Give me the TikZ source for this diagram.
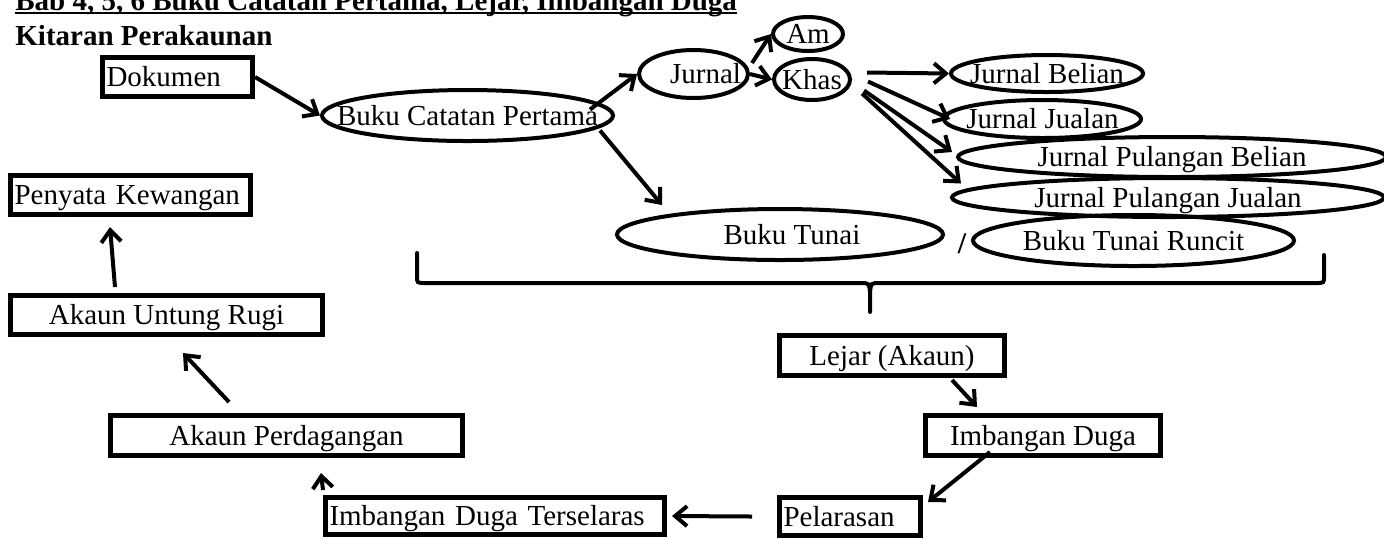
\documentclass[tikz,border=0pt]{standalone}
\usepackage{fontspec}
\setmainfont{Liberation Serif}
\usetikzlibrary{arrows.meta, shapes.geometric}

\begin{document}
\begin{tikzpicture}[x=0.5pt, y=-0.5pt, >={Straight Barb[length=6pt,width=10pt]},
	every node/.style={font=\fontsize{14.5}{17}\selectfont, text height=9.6pt, text depth=0pt},
	tajuk/.style={anchor=base west, inner sep=0pt, font=\bfseries\fontsize{14.5}{17}\selectfont},
	kotak/.style={draw, line width=2.5pt, inner ysep=1pt, minimum height=19.5pt},
	kotakkiri/.style={kotak, align=left, inner xsep=2pt},
	bujur/.style={ellipse, draw, line width=2pt, inner sep=0pt},
	anak/.style={->, line width=2pt}]
	\useasboundingbox (0,0) rectangle (1384,538);
	% 标题
	\node[tajuk] (judul) at (15,10) {Bab 4, 5, 6 Buku Catatan Pertama, Lejar, Imbangan Duga};
	\draw[line width=0.8pt] ([yshift=-1.4pt]judul.base west) -- ([yshift=-1.4pt]judul.base east);
	\node[tajuk] (kitaran) at (15,45) {Kitaran Perakaunan};
	% 上半部分
	\node[kotakkiri, text width=71pt] (dok) at (177.5,77) {Dokumen};
	\node[bujur, minimum width=145.5pt, minimum height=25.5pt, label=center:{Buku Catatan Pertama}] (bcp) at (467.5,115.5) {};
	\node[bujur, minimum width=54.5pt, minimum height=24pt, label=center:{\hspace{12pt}Jurnal}] (jurnal) at (693.5,74) {};
	\node[bujur, minimum width=35pt, minimum height=17pt, label=center:{Am}] (am) at (808,34) {};
	\node[bujur, minimum width=38pt, minimum height=20.5pt, label=center:{Khas}] (khas) at (812,79.5) {};
	\node[bujur, minimum width=96pt, minimum height=18.5pt, label=center:{Jurnal Belian}] (jb) at (1047,73.5) {};
	\node[bujur, minimum width=98.5pt, minimum height=19pt, label=center:{Jurnal Jualan}] (jj) at (1042.5,119) {};
	\node[bujur, minimum width=214pt, minimum height=20pt, label=center:{Jurnal Pulangan Belian}] (jpb) at (1172,157) {};
	\node[bujur, minimum width=216pt, minimum height=19.5pt, label=center:{Jurnal Pulangan Jualan}] (jpj) at (1168,197.5) {};
	\node[bujur, minimum width=163pt, minimum height=25.5pt, label=center:{\hspace{12pt}Buku Tunai}] (tunai) at (780,234.5) {};
	\node[font=\bfseries\fontsize{15}{17}\selectfont] (garis) at (962,244) {/};
	\node[bujur, minimum width=160.5pt, minimum height=25.5pt, label=center:{Buku Tunai Runcit\hspace{24pt}}] (runcit) at (1133.5,240.5) {};
	\draw[anak] (dok.east) -- (bcp.west);
	\draw[anak] ([shift={(-25,-6)}]bcp.east) -- (jurnal.west);
	\draw[anak] ([shift={(-15,15)}]bcp.east) -- ([shift={(-118,-2)}]tunai.north);
	\draw[anak] ([shift={(2,-11)}]jurnal.east) -- (am.west);
	\draw[anak] (jurnal.east) -- (khas.west);
	\draw[anak] ([shift={(15,-7)}]khas.east) -- (jb.west);
	\draw[anak] ([shift={(16,2)}]khas.east) -- ([shift={(8,0)}]jj.west);
	\draw[anak] ([shift={(12,11)}]khas.east) -- ([shift={(-4,-5)}]jpb.west);
	\draw[anak] ([shift={(10,14)}]khas.east) -- ([shift={(11,-14)}]jpj.west);
	% 大括号
	\draw[line width=2pt, line cap=round] (417,253) -- (417,276) .. controls (417,283) .. (425,283) -- (860,283) .. controls (869,283) .. (870,292) -- (870,312);
	\draw[line width=2pt, line cap=round] (870,292) .. controls (871,283) .. (880,283) -- (1316,283) .. controls (1324,283) .. (1324,276) -- (1324,255);
	% 下半部分
	\node[kotakkiri, text width=116pt] (pk) at (130.5,195) {Penyata Kewangan};
	\node[kotak, minimum width=156pt] (aur) at (166.5,315) {Akaun Untung Rugi};
	\node[kotak, minimum width=176pt, minimum height=20pt] (ap) at (286.5,435.5) {Akaun Perdagangan};
	\node[kotakkiri, text width=165.5pt, minimum height=18.5pt] (idt) at (495,516) {Imbangan Duga Terselaras};
	\node[kotakkiri, text width=66.5pt, minimum height=19pt] (pel) at (850,516.5) {Pelarasan};
	\node[kotak, minimum width=117.5pt, minimum height=20pt] (id) at (1043,435.5) {Imbangan Duga};
	\node[kotak, minimum width=112.5pt, minimum height=20pt] (lejar) at (892,355.5) {Lejar (Akaun)};
	\draw[anak] ([shift={(60,2)}]lejar.south) -- ([shift={(54,-6)}]id.north west);
	\draw[anak] ([shift={(-53,-6)}]id.south) -- ([shift={(5,7)}]pel.north east);
	\draw[anak] ([shift={(-25,0)}]pel.west) -- ([shift={(5,0)}]idt.east);
	\draw[anak] ([shift={(0,-5)}]idt.north west) -- ([shift={(34.5,15)}]ap.south);
	\draw[anak] ([shift={(-57.5,-11)}]ap.north) -- ([shift={(16.5,16)}]aur.south);
	\draw[anak] ([shift={(-51.5,-6)}]aur.north) -- ([shift={(-20.5,10)}]pk.south);
\end{tikzpicture}
\end{document}
